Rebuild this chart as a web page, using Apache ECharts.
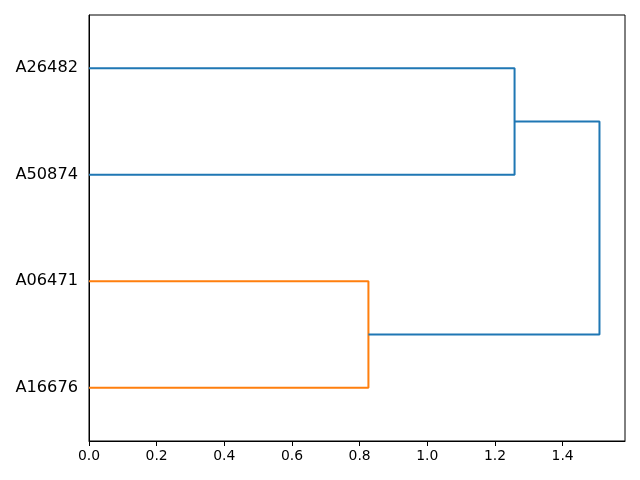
<!DOCTYPE html>
<html><head><meta charset="utf-8">
<script src="https://cdn.jsdelivr.net/npm/echarts@6/dist/echarts.min.js"></script>
<style>html,body{margin:0;padding:0;background:#fff}#c{width:640px;height:480px}</style>
</head><body><div id="c"></div>
<script>
// leaf labels, bottom to top
const leafLabels = ["A16676", "A06471", "A50874", "A26482"];
// link coordinates (scipy-style): icoord = leaf positions, dcoord = distances
const icoord = [[5, 5, 15, 15], [25, 25, 35, 35], [10, 10, 30, 30]];
const dcoord = [[0, 0.826, 0.826, 0], [0, 1.258, 1.258, 0], [0.826, 1.509, 1.509, 1.258]];
const linkColors = ["#ff7f0e", "#1f77b4", "#1f77b4"];
const xTicks = [0, 0.2, 0.4, 0.6, 0.8, 1.0, 1.2, 1.4];
const xMax = 1.509 * 1.05;

const series = icoord.map((ic, i) => ({
  type: 'line',
  xAxisIndex: 0, yAxisIndex: 0,
  data: ic.map((y, j) => [dcoord[i][j], y]),
  showSymbol: false, symbol: 'none',
  lineStyle: { color: linkColors[i], width: 2 },
  silent: true, animation: false
}));

const chart = echarts.init(document.getElementById('c'), null, { renderer: 'canvas' });
chart.setOption({
  animation: false,
  grid: { left: 89, right: 15, top: 15, bottom: 39, show: true, borderColor: '#000', borderWidth: 1, backgroundColor: 'transparent' },
  xAxis: [{
    type: 'value', min: 0, max: xMax, interval: 0.2,
    axisLine: { show: true, lineStyle: { color: '#000', width: 1 } },
    axisTick: { show: true, length: 5, lineStyle: { color: '#000' } },
    splitLine: { show: false },
    axisLabel: {
      color: '#000', fontSize: 13.9, fontFamily: 'DejaVu Sans', margin: 8,
      formatter: v => xTicks.some(t => Math.abs(t - v) < 1e-9) ? v.toFixed(1) : '',
      showMaxLabel: false
    }
  }],
  yAxis: [{
    type: 'value', min: 0, max: 40, show: false
  }, {
    type: 'category', data: leafLabels, boundaryGap: true, position: 'left',
    axisLine: { show: true, lineStyle: { color: '#000', width: 1 } },
    axisTick: { show: false },
    splitLine: { show: false },
    axisLabel: { color: '#000', fontSize: 16.2, fontFamily: 'DejaVu Sans', margin: 11, padding: [3, 0, 0, 0] }
  }],
  series: series
});
</script></body></html>
